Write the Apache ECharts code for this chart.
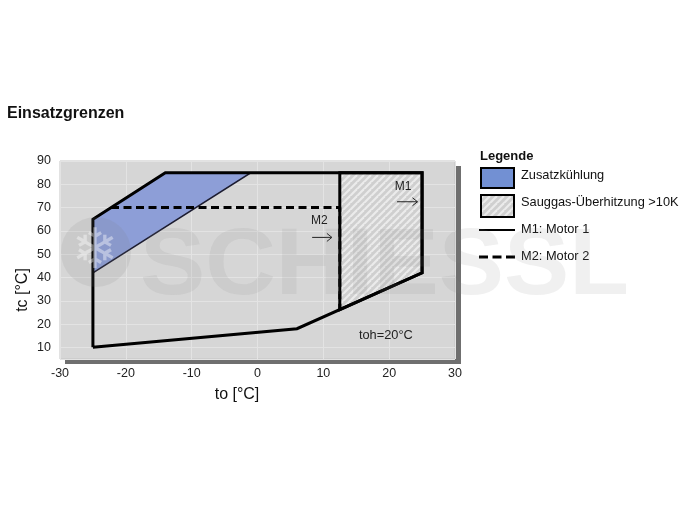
<!DOCTYPE html>
<html>
<head>
<meta charset="utf-8">
<script src="https://cdn.jsdelivr.net/npm/echarts@6/dist/echarts.min.js"></script>
<style>
html,body{margin:0;padding:0;background:#fff;}
#c{width:685px;height:514px;}
</style>
</head>
<body>
<div id="c"></div>
<script>
// ---- data ----
const xTicks = [-30, -20, -10, 0, 10, 20, 30];
const yTicks = [10, 20, 30, 40, 50, 60, 70, 80, 90];
const m1Outline = [[-25, 10], [-25, 65], [-14, 85], [25, 85], [25, 42], [6, 18], [-25, 10]];
const m2Outline = [[-22.25, 70], [12.5, 70], [12.5, 26.2]];
const zusatzArea = [[-25, 65], [-14, 85], [-1, 85], [-25, 42]];
const sauggasArea = [[12.5, 85], [25, 85], [25, 42], [12.5, 26.2]];
const annoM1 = {text: 'M1', at: [22.1, 78.8], arrow: [[21.2, 72.5], [24.3, 72.5]]};
const annoM2 = {text: 'M2', at: [9.4, 64.4], arrow: [[8.3, 57.2], [11.3, 57.2]]};
const annoToh = {text: 'toh=20°C', at: [19.5, 15.3]};
const legendItems = ['Zusatzkühlung', 'Sauggas-Überhitzung >10K', 'M1: Motor 1', 'M2: Motor 2'];

const FONT = '"Liberation Sans", Arial, sans-serif';

// hatch pattern
function makeHatch(bg, fg) {
  const cv = document.createElement('canvas');
  cv.width = 7; cv.height = 7;
  const ctx = cv.getContext('2d');
  ctx.fillStyle = bg; ctx.fillRect(0, 0, 7, 7);
  ctx.strokeStyle = fg; ctx.lineWidth = 2.2;
  for (let k = -7; k <= 14; k += 7) {
    ctx.beginPath(); ctx.moveTo(k - 7, 14); ctx.lineTo(k + 7, 0); ctx.stroke();
  }
  return cv;
}
const hatch = makeHatch('#cfcfcf', '#ebebeb');

function polySeries(name, pts, fill, stroke, lw) {
  return {
    type: 'custom', name: name, z: 2,
    data: pts,
    renderItem: function (params, api) {
      if (params.dataIndex !== 0) return;
      const p = pts.map(d => api.coord(d));
      return {
        type: 'polygon', shape: {points: p},
        style: {fill: fill, stroke: stroke, lineWidth: lw}
      };
    },
    silent: true
  };
}

const chart = echarts.init(document.getElementById('c'), null, {renderer: 'canvas'});
const option = {
  backgroundColor: '#ffffff',
  animation: false,
  grid: {
    left: 60, top: 161, width: 395, height: 198,
    show: true, backgroundColor: '#d6d6d6', borderColor: '#c4c4c4', borderWidth: 1
  },
  xAxis: {
    type: 'value', min: xTicks[0], max: xTicks[xTicks.length - 1], interval: 10,
    axisLine: {show: false}, axisTick: {show: false},
    splitLine: {show: true, lineStyle: {color: '#e3e3e3', width: 1}},
    axisLabel: {color: '#222', fontSize: 12.5, fontFamily: FONT, margin: 8}
  },
  yAxis: {
    type: 'value', min: 5, max: 90, minInterval: 10, maxInterval: 10,
    axisLine: {show: false}, axisTick: {show: false},
    splitLine: {show: true, lineStyle: {color: '#e3e3e3', width: 1}},
    axisLabel: {color: '#222', fontSize: 12.5, fontFamily: FONT, margin: 9,
      customValues: yTicks}
  },
  series: [
    polySeries('Zusatzkühlung', zusatzArea, '#8d9ed7', '#1c1c30', 1.5),
    polySeries('Sauggas', sauggasArea, {image: hatch, repeat: 'repeat'}, '#000', 3),
    {
      type: 'line', name: 'M1', data: m1Outline, symbol: 'none', z: 3,
      lineStyle: {color: '#000', width: 3, join: 'miter'}, silent: true
    },
    {
      type: 'line', name: 'M2', data: m2Outline, symbol: 'none', z: 3,
      lineStyle: {color: '#000', width: 3, type: [8, 4.5]}, silent: true
    }
  ]
};
chart.setOption(option);

const px = d => chart.convertToPixel({gridIndex: 0}, d);
const g = [];
// plot shadow
g.push({type: 'rect', z: -1, shape: {x: 65, y: 166, width: 396, height: 198}, style: {fill: '#6f6f6f'}});
// title
g.push({type: 'text', left: 7, top: 106, style: {text: 'Einsatzgrenzen', font: 'bold 16px ' + FONT, fill: '#111'}});
// axis names
g.push({type: 'text', x: 237, y: 395, style: {text: 'to [°C]', font: '16px ' + FONT, fill: '#111', align: 'center', verticalAlign: 'middle'}});
g.push({type: 'text', x: 23, y: 290, rotation: Math.PI / 2, style: {text: 'tc [°C]', font: '16px ' + FONT, fill: '#111', align: 'center', verticalAlign: 'middle'}});
// annotations
[annoM1, annoM2].forEach(a => {
  const p = px(a.at);
  g.push({type: 'text', x: p[0], y: p[1], z: 5, style: {text: a.text, font: '12px ' + FONT, fill: '#222', align: 'center', verticalAlign: 'middle'}});
  const p1 = px(a.arrow[0]), p2 = px(a.arrow[1]);
  g.push({type: 'line', z: 5, shape: {x1: p1[0], y1: p1[1], x2: p2[0], y2: p2[1]}, style: {stroke: '#222', lineWidth: 1}});
  g.push({type: 'polyline', z: 5, shape: {points: [[p2[0] - 5, p2[1] - 4], [p2[0], p2[1]], [p2[0] - 5, p2[1] + 4]]}, style: {stroke: '#222', lineWidth: 1, fill: null}});
});
{
  const p = px(annoToh.at);
  g.push({type: 'text', x: p[0], y: p[1], z: 5, style: {text: annoToh.text, font: '12.8px ' + FONT, fill: '#222', align: 'center', verticalAlign: 'middle'}});
}
// legend
g.push({type: 'text', x: 480, y: 156, style: {text: 'Legende', font: 'bold 13px ' + FONT, fill: '#111', verticalAlign: 'middle'}});
g.push({type: 'rect', shape: {x: 481, y: 168, width: 33, height: 20}, style: {fill: '#7290d3', stroke: '#000', lineWidth: 2}});
g.push({type: 'rect', shape: {x: 481, y: 195, width: 33, height: 22}, style: {fill: {image: hatch, repeat: 'repeat'}, stroke: '#000', lineWidth: 2}});
g.push({type: 'line', shape: {x1: 479, y1: 230, x2: 515, y2: 230}, style: {stroke: '#000', lineWidth: 2}});
g.push({type: 'line', shape: {x1: 479, y1: 257, x2: 515, y2: 257}, style: {stroke: '#000', lineWidth: 3, lineDash: [9, 4.5]}});
const ly = [175, 202, 229, 256];
legendItems.forEach((t, i) => {
  g.push({type: 'text', x: 521, y: ly[i], style: {text: t, font: '12.8px ' + FONT, fill: '#111', verticalAlign: 'middle'}});
});
// watermark
g.push({type: 'circle', z: 50, shape: {cx: 96, cy: 252, r: 35}, style: {fill: 'rgba(120,120,120,0.13)'}});
g.push({type: 'text', z: 51, x: 95, y: 253, style: {text: '❄', font: 'bold 56px "DejaVu Sans", sans-serif', fill: 'rgba(255,255,255,0.4)', align: 'center', verticalAlign: 'middle'}});
g.push({type: 'text', z: 50, x: 140, y: 268, scaleX: 1.04, style: {text: 'SCHIESSL', font: 'bold 94px ' + FONT, fill: 'rgba(128,128,128,0.12)', verticalAlign: 'middle'}});

chart.setOption({graphic: g});
</script>
</body>
</html>
